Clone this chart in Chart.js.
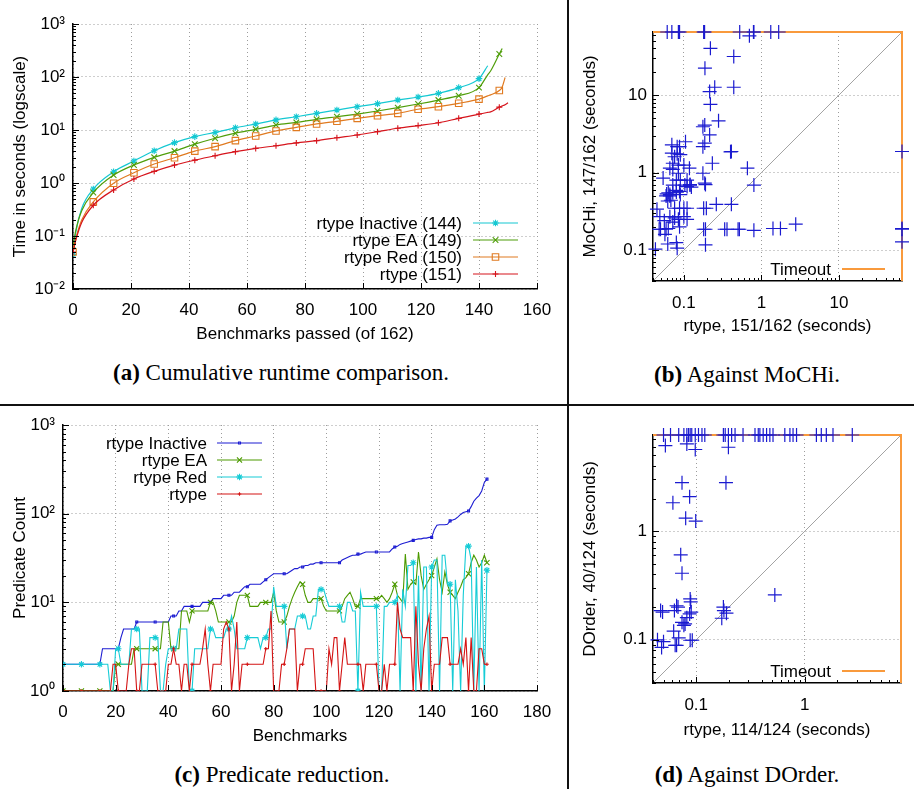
<!DOCTYPE html>
<html>
<head>
<meta charset="utf-8">
<script src="https://cdn.jsdelivr.net/npm/chart.js@4.4.1/dist/chart.umd.min.js"></script>
<style>
  body { margin: 0; background: #fff; width: 914px; height: 789px; position: relative; overflow: hidden; }
  canvas { position: absolute; }
  .cap { position: absolute; font-family: "Liberation Serif", "Times New Roman", serif; font-size: 23px;
         line-height: 26px; color: #000; white-space: nowrap; transform: translateX(-50%); }
  .rule { position: absolute; background: #111; }
</style>
</head>
<body>
<canvas id="cA" width="568" height="350" style="left:0;top:0"></canvas>
<canvas id="cB" width="344" height="345" style="left:570px;top:0"></canvas>
<canvas id="cC" width="568" height="345" style="left:0;top:405px"></canvas>
<canvas id="cD" width="344" height="345" style="left:570px;top:405px"></canvas>

<div class="rule" style="left:567px;top:0;width:1.5px;height:789px"></div>
<div class="rule" style="left:0;top:404px;width:914px;height:1.5px"></div>

<div class="cap" style="left:281px;top:360px"><b>(a)</b> Cumulative runtime comparison.</div>
<div class="cap" style="left:747px;top:362px"><b>(b)</b> Against MoCHi.</div>
<div class="cap" style="left:282px;top:762px"><b>(c)</b> Predicate reduction.</div>
<div class="cap" style="left:747px;top:762px"><b>(d)</b> Against DOrder.</div>

<script>
// ---------- (a) cumulative runtime, seconds at benchmark count ----------
const passedA  = [0, 1, 3, 7, 14, 21, 28, 35, 42, 49, 56, 63, 70, 77, 84, 91, 98, 105, 112, 119, 126, 133, 140, 143, 144, 147, 148, 149, 150];
const inactiveA = [0.045, 0.12, 0.33, 0.77, 1.63, 2.6, 4.07, 5.77, 7.5, 9.0, 11.0, 13.0, 15.5, 17.8, 20.6, 23.8, 27.5, 31.4, 36.7, 41.9, 49.1, 63, 93, 163, null, null, null, null, null];
const eaA       = [0.065, 0.13, 0.3, 0.66, 1.41, 2.19, 3.05, 4.0, 5.4, 7.0, 8.7, 10.3, 12.4, 13.9, 15.9, 17.8, 20, 22.8, 26.4, 30.9, 36.7, 44.4, 63, 110, 130, 272, 346, null, null];
const redA      = [0.05, 0.09, 0.2, 0.44, 0.99, 1.56, 2.28, 3.0, 4.0, 4.85, 6.3, 7.7, 9.6, 11.2, 13, 14.6, 16.6, 18.6, 20.6, 24.6, 27.5, 31.9, 38.3, 44, 46, 55.5, 65, 98, null];
const rtypeA    = [0.05, 0.085, 0.18, 0.38, 0.74, 1.19, 1.66, 2.18, 2.7, 3.27, 3.9, 4.5, 5.05, 5.7, 6.3, 7.15, 8.05, 9.3, 10.8, 12.1, 13.7, 16.6, 20, 21.5, 22, 27, 28.5, 30, 32.7];

// ---------- (b) rtype vs MoCHi, [rtype s, MoCHi s], 65 = timeout ----------
const TIMEOUT_B = 65;
const vsMochi = [
  [0.061, 65], [0.070, 65], [0.085, 65], [0.088, 65], [0.18, 65], [0.185, 65], [0.525, 65], [0.79, 65], [0.80, 65], [1.32, 65], [1.67, 65],
  [0.7, 58], [0.22, 40], [0.44, 31.4], [0.187, 22.2], [0.44, 12.6], [0.25, 12.6], [0.215, 11.1], [0.22, 7.6], [0.28, 4.65],
  [0.186, 4.1], [0.176, 3.9], [0.215, 3.06], [0.186, 2.4], [0.176, 2.16], [0.233, 1.32], [0.41, 1.87], [0.40, 1.85], [0.66, 1.14],
  [0.80, 0.69], [0.176, 0.98], [0.186, 0.73], [0.19, 0.70],
  [65, 1.87], [65, 0.186], [65, 0.19], [65, 0.128],
  [0.07, 2.28], [0.082, 2.16], [0.088, 2.16], [0.105, 2.5], [0.07, 1.78], [0.082, 1.75], [0.076, 1.6], [0.09, 1.7], [0.072, 1.32],
  [0.085, 1.25], [0.1, 1.25], [0.118, 1.14], [0.066, 1.14], [0.072, 1.1], [0.085, 0.98], [0.08, 0.8], [0.054, 0.85], [0.09, 0.8],
  [0.11, 0.8], [0.12, 0.69], [0.125, 0.65], [0.072, 0.69], [0.08, 0.59], [0.063, 0.55], [0.088, 0.57], [0.066, 0.5], [0.06, 0.53],
  [0.045, 0.337], [0.048, 0.186], [0.05, 0.186], [0.059, 0.186], [0.063, 0.19], [0.057, 0.16], [0.043, 0.103], [0.062, 0.12],
  [0.08, 0.125], [0.082, 0.106], [0.19, 0.117], [0.19, 0.186], [0.18, 0.186], [0.195, 0.347], [0.18, 0.347], [0.262, 0.39],
  [0.41, 0.39], [0.336, 0.186], [0.36, 0.186], [0.5, 0.186], [0.52, 0.186], [0.80, 0.18], [1.41, 0.19], [1.76, 0.19], [2.77, 0.216],
  [0.066, 0.52], [0.059, 0.5], [0.068, 0.44], [0.062, 0.43], [0.072, 0.55], [0.08, 0.56], [0.09, 0.52], [0.076, 0.347],
  [0.088, 0.347], [0.1, 0.347], [0.11, 0.347], [0.066, 0.27], [0.076, 0.26], [0.085, 0.25], [0.1, 0.27], [0.11, 0.25],
  [0.049, 0.27], [0.056, 0.24], [0.072, 0.23], [0.103, 0.69], [0.11, 0.66], [0.12, 0.7], [0.088, 0.2]
];

// ---------- (c) predicate count per benchmark (index 0..161) ----------
const inactiveC = [
  2, 2, 2, 2, 2, 2, 2, 2, 2, 2,   2, 2, 2, 2, 2, 3, 3, 3, 3, 3,
  3, 3, 4, 5, 5, 5, 5, 5, 6, 6,   6, 6, 6, 6, 6, 6, 6, 6, 6, 6,
  6, 7, 7, 7, 8, 8, 9, 9, 9, 9,   9, 9, 9, 10, 10, 10, 10, 11, 11, 11,
  11, 12, 12, 12, 12, 13, 13, 13, 14, 15,   15, 16, 16, 16, 16, 16, 17, 18, 19, 20,
  21, 21, 21, 21, 21, 21, 22, 23, 24, 24,   25, 25, 26, 26, 27, 27, 28, 28, 28, 28,
  28, 28, 28, 28, 28, 28, 30, 31, 32, 33,   34, 34, 35, 35, 36, 37, 37, 37, 37, 37,
  37, 37, 37, 37, 37, 40, 42, 43, 45, 46,   47, 48, 49, 50, 51, 52, 52, 53, 53, 54,
  54, 66, 74, 75, 75, 75, 76, 83, 85, 87,   92, 98, 103, 105, 107, 120, 138, 150, 160, 180,
  225, 245
];
const eaC = [
  1, 1, 1, 1, 1, 1, 1, 1, 1, 1,   1, 1, 1, 1, 1, 1, 1, 1, 1, 1,
  2, 2, 2, 2, 2, 2, 2, 3, 3, 3,   3, 3, 3, 3, 3, 3, 3, 3, 6, 6,
  6, 3, 3, 3, 3, 8, 8, 8, 6, 8,   8, 8, 8, 8, 8, 8, 10, 10, 8, 6,
  6, 6, 6, 6, 6, 7, 10, 12, 12, 12,   12, 9, 9, 9, 9, 10, 10, 10, 10, 10,
  13, 8, 6, 6, 6, 7, 9, 11, 13, 15,   17, 16, 12, 10, 10, 11, 11, 11, 11, 9,
  8, 8, 8, 8, 8, 8, 9, 11, 12, 13,   11, 9, 9, 11, 11, 11, 11, 11, 11, 11,
  11, 12, 11, 10, 11, 13, 16, 12, 11, 10,   35, 14, 16, 17, 16, 37, 20, 14, 16, 18,
  20, 25, 31, 18, 13, 22, 16, 13, 12, 11,   13, 15, 18, 19, 21, 28, 34, 30, 25, 28,
  34, 28
];
const redC = [
  2, 2, 2, 2, 2, 2, 2, 2, 2, 2,   2, 2, 2, 2, 2, 2, 2, 2, 1, 1,
  3, 3, 2, 2, 2, 2, 5, 5, 5, 5,   1, 1, 1, 4, 4, 4, 4, 1, 1, 2,
  3, 3, 3, 3, 5, 5, 5, 5, 1, 1,   3, 3, 3, 3, 3, 3, 5, 5, 4, 4,
  4, 4, 5, 5, 7, 5, 3, 3, 3, 3,   4, 4, 4, 4, 4, 3, 4, 4, 5, 5,
  15, 9, 9, 9, 9, 3, 5, 5, 5, 7,   7, 7, 7, 5, 5, 7, 7, 14, 14, 14,
  11, 9, 9, 9, 9, 9, 6, 6, 10, 10,   8, 8, 1, 13, 9, 9, 9, 9, 9, 9,
  1, 1, 9, 9, 10, 10, 10, 12, 1, 14,   9, 26, 26, 28, 1, 20, 1, 25, 25, 1,
  25, 30, 30, 1, 34, 34, 16, 16, 1, 18,   8, 1, 12, 43, 43, 30, 1, 25, 1, 30,
  1, 23
];
const rtypeC = [
  1, 1, 1, 1, 1, 1, 1, 1, 1, 1,   1, 1, 1, 1, 1, 1, 1, 1, 1, 2,
  2, 1, 1, 1, 1, 2, 3, 3, 1, 1,   2, 2, 2, 2, 2, 2, 1, 1, 1, 1,
  2, 2, 3, 2, 2, 1, 2, 2, 1, 2,   2, 2, 2, 3, 5, 2, 1, 2, 2, 2,
  2, 5, 6, 5, 1, 2, 6, 1, 2, 2,   2, 2, 2, 2, 2, 2, 2, 3, 3, 8,
  1, 1, 1, 2, 2, 3, 5, 5, 5, 1,   2, 2, 3, 3, 3, 3, 1, 1, 1, 1,
  1, 3, 2, 4, 4, 1, 2, 4, 2, 2,   2, 2, 2, 2, 1, 2, 2, 2, 2, 2,
  1, 1, 2, 1, 2, 2, 2, 10, 5, 4,   4, 4, 4, 1, 9, 2, 1, 3, 5, 7,
  1, 2, 2, 2, 4, 4, 4, 2, 2, 2,   2, 3, 2, 4, 1, 4, 1, 1, 3, 3,
  2, 2
];

// ---------- (d) rtype vs DOrder, [rtype s, DOrder s], 7.7 = timeout ----------
const TIMEOUT_D = 7.7;
const vsDorder = [
  [0.05, 7.7], [0.058, 7.7], [0.069, 7.7], [0.077, 7.7], [0.082, 7.7], [0.085, 7.7], [0.088, 7.7], [0.091, 7.7], [0.098, 7.7],
  [0.105, 7.7], [0.113, 7.7], [0.12, 7.7], [0.178, 7.7], [0.185, 7.7], [0.198, 7.7], [0.212, 7.7], [0.228, 7.7], [0.27, 7.7],
  [0.348, 7.7], [0.373, 7.7], [0.386, 7.7], [0.414, 7.7], [0.445, 7.7], [0.477, 7.7], [0.51, 7.7], [0.655, 7.7], [0.73, 7.7],
  [0.78, 7.7], [0.84, 7.7], [1.28, 7.7], [1.42, 7.7], [1.58, 7.7], [1.82, 7.7], [2.74, 7.7],
  [0.052, 6.15], [0.082, 6.37], [0.098, 5.66], [0.198, 5.94], [0.074, 2.8], [0.188, 2.8], [0.087, 2.08], [0.061, 1.83],
  [0.08, 1.32], [0.099, 1.24], [0.072, 0.606], [0.074, 0.41], [0.53, 0.259], [0.088, 0.238], [0.047, 0.186], [0.049, 0.18],
  [0.066, 0.206], [0.068, 0.2], [0.063, 0.186], [0.089, 0.224], [0.087, 0.173], [0.09, 0.18], [0.082, 0.16], [0.074, 0.145],
  [0.079, 0.14], [0.077, 0.136], [0.062, 0.12], [0.069, 0.104], [0.064, 0.089], [0.066, 0.089], [0.044, 0.1], [0.05, 0.096],
  [0.048, 0.085], [0.088, 0.099], [0.092, 0.099], [0.178, 0.2], [0.18, 0.186], [0.19, 0.176], [0.172, 0.158]
];

// colours
const CYAN = '#14c8d2', GREEN = '#4f9e0a', ORANGE = '#e07a20', RED = '#d6141c';
const BLUE = '#1a1ad0', TOUT = '#f99a3c', DIAG = '#a3a3a3';

Chart.defaults.font.family = '"Liberation Sans", Arial, Helvetica, sans-serif';
Chart.defaults.font.size = 17;
Chart.defaults.color = '#000';
Chart.defaults.animation = false;
Chart.defaults.events = [];
Chart.defaults.plugins.legend.display = false;
Chart.defaults.plugins.tooltip.enabled = false;

// ---------- helpers ----------
const SUP = { '-': '⁻', '0': '⁰', '1': '¹', '2': '²', '3': '³' };
function isDecade(v) { const l = Math.log10(v); return Math.abs(l - Math.round(l)) < 1e-9; }
function isWhole(v) {
  const p = Math.pow(10, Math.floor(Math.log10(v) + 1e-9));
  const s = v / p;
  return Math.abs(s - Math.round(s)) < 1e-6;
}
function powLabel(v) {
  if (!isDecade(v)) return '';
  return '10' + String(Math.round(Math.log10(v))).split('').map(c => SUP[c]).join('');
}
function plainLabel(v) { return isDecade(v) ? String(+(+v).toPrecision(1)) : ''; }

const grid = {
  drawTicks: false,
  lineWidth: 1,
  color: c => {
    if (!c.tick) return 'rgba(0,0,0,0)';
    const major = c.scale.type === 'logarithmic' ? isDecade(c.tick.value) : true;
    return major ? '#9c9c9c' : 'rgba(0,0,0,0)';
  }
};
const border = { display: true, color: '#000', width: 1.5, dash: [1, 3] };

function axis(extra) {
  return Object.assign({ grid, border }, extra);
}

// gnuplot style: tick marks pointing into the plot
const inwardTicks = {
  id: 'inwardTicks',
  afterDraw(chart, args, o) {
    if (!o || !o.major) return;
    const ctx = chart.ctx, a = chart.chartArea;
    ctx.save();
    ctx.strokeStyle = '#000';
    ctx.lineWidth = 1;
    ['x', 'y'].forEach(id => {
      const s = chart.scales[id];
      s.ticks.forEach(t => {
        let len = o.major;
        if (s.type === 'logarithmic') {
          if (isDecade(t.value)) len = o.major;
          else if (isWhole(t.value)) len = o.minor;
          else return;
        }
        const p = Math.round(s.getPixelForValue(t.value)) + 0.5;
        ctx.beginPath();
        if (id === 'x') { ctx.moveTo(p, a.bottom); ctx.lineTo(p, a.bottom - len); }
        else { ctx.moveTo(a.left, p); ctx.lineTo(a.left + len, p); }
        ctx.stroke();
      });
    });
    ctx.restore();
  }
};

// gnuplot style key: right aligned text, sample line to the right
const keyBox = {
  id: 'keyBox',
  afterDraw(chart, args, o) {
    if (!o || !o.textRight) return;
    const ctx = chart.ctx;
    let row = 0;
    chart.data.datasets.forEach(ds => {
      if (!ds.key) return;
      const y = o.top + row * o.step;
      ctx.save();
      ctx.font = '17px "Liberation Sans", Arial, sans-serif';
      ctx.fillStyle = '#000';
      ctx.textAlign = 'right';
      ctx.textBaseline = 'middle';
      ctx.fillText(ds.label, o.textRight, y + 1);
      ctx.strokeStyle = ds.borderColor;
      ctx.lineWidth = ds.borderWidth;
      ctx.beginPath();
      ctx.moveTo(o.x1, y);
      ctx.lineTo(o.x2, y);
      ctx.stroke();
      if (ds.keyStyle) {
        ctx.fillStyle = ds.keyStyle === 'rect' ? 'rgba(0,0,0,0)' : ds.borderColor;
        ctx.lineWidth = 1.1;
        Chart.helpers.drawPoint(ctx, { pointStyle: ds.keyStyle, radius: ds.keyRadius, borderWidth: 1.1, rotation: 0 }, (o.x1 + o.x2) / 2, y);
      }
      ctx.restore();
      row++;
    });
  }
};
Chart.register(inwardTicks, keyBox);

function lineSet(label, xs, ys, color, style, r, order, smooth, width) {
  return {
    label, key: true, order,
    data: xs.map((x, i) => ({ x, y: ys[i] })),
    borderColor: color,
    backgroundColor: color,
    borderWidth: width,
    pointStyle: style,
    keyStyle: style,
    keyRadius: r,
    pointRadius: c => (c.raw && c.raw.x % 7 === 0) ? r : 0,
    pointBorderColor: color,
    pointBackgroundColor: style === 'rect' ? 'rgba(0,0,0,0)' : color,
    pointBorderWidth: 1.1,
    cubicInterpolationMode: smooth ? 'monotone' : 'default',
    tension: 0
  };
}

// ---------- (a) ----------
new Chart(document.getElementById('cA'), {
  type: 'line',
  data: {
    datasets: [
      lineSet('rtype Inactive (144)', passedA, inactiveA, CYAN, 'star', 3.3, 4, true, 1.2),
      lineSet('rtype EA (149)', passedA, eaA, GREEN, 'crossRot', 4, 3, true, 1.2),
      lineSet('rtype Red (150)', passedA, redA, ORANGE, 'rect', 4.6, 2, true, 1.2),
      lineSet('rtype (151)', passedA, rtypeA, RED, 'cross', 3, 1, true, 1.2)
    ]
  },
  options: {
    responsive: false,
    layout: { padding: { top: 24, right: 31, left: 0, bottom: 0 } },
    scales: {
      x: axis({
        type: 'linear', min: 0, max: 160,
        ticks: { stepSize: 20, padding: 11, autoSkip: false, maxRotation: 0 },
        title: { display: true, text: 'Benchmarks passed (of 162)', padding: { top: 0, bottom: 5 } },
        afterFit: s => { s.height = 61; }
      }),
      y: axis({
        type: 'logarithmic', min: 0.01, max: 1000,
        ticks: { callback: v => powLabel(v), autoSkip: false, padding: 8 },
        title: { display: true, text: 'Time in seconds (logscale)', padding: { top: 10, bottom: 0 } },
        afterFit: s => { s.width = 73; }
      })
    },
    plugins: {
      inwardTicks: { major: 6, minor: 3 },
      keyBox: { textRight: 462, x1: 473, x2: 518, top: 223, step: 17 }
    }
  }
});

// ---------- scatter panels ----------
function scatterPanel(id, pairs, T, min, pad, fitH, xTitle, yTitle, keyTop, xTitlePad) {
  return new Chart(document.getElementById(id), {
    type: 'scatter',
    data: {
      datasets: [
        {
          label: 'runs', order: 1, clip: false,
          data: pairs.map(([x, y]) => ({ x, y })),
          pointStyle: 'cross', pointRadius: 7, pointBorderWidth: 1.2,
          pointBorderColor: BLUE, pointBackgroundColor: BLUE
        },
        {
          label: 'Timeout', key: true, order: 2, clip: false, showLine: true,
          data: [{ x: min, y: T }, { x: T, y: T }, { x: T, y: min }],
          borderColor: TOUT, borderWidth: 2, pointRadius: 0
        },
        {
          label: 'diag', order: 3, showLine: true,
          data: [{ x: min, y: min }, { x: T, y: T }],
          borderColor: DIAG, borderWidth: 1, pointRadius: 0
        }
      ]
    },
    options: {
      responsive: false,
      layout: { padding: pad },
      scales: {
        x: axis({
          type: 'logarithmic', min, max: T,
          ticks: { callback: v => plainLabel(v), autoSkip: false, maxRotation: 0, padding: 12 },
          title: { display: true, text: xTitle, padding: { top: 0, bottom: xTitlePad } },
          afterFit: s => { s.height = fitH; }
        }),
        y: axis({
          type: 'logarithmic', min, max: T,
          ticks: { callback: v => plainLabel(v), autoSkip: false, padding: 6 },
          title: { display: true, text: yTitle, padding: { top: 10, bottom: 0 } },
          afterFit: s => { s.width = 83; }
        })
      },
      plugins: {
        inwardTicks: { major: 6, minor: 3 },
        keyBox: { textRight: 261, x1: 272, x2: 315, top: keyTop, step: 17 }
      }
    }
  });
}

scatterPanel('cB', vsMochi, TIMEOUT_B, 0.04, { top: 32, right: 11, left: 0, bottom: 0 }, 64,
  'rtype, 151/162 (seconds)', 'MoCHi, 147/162 (seconds)', 269, 8);
scatterPanel('cD', vsDorder, TIMEOUT_D, 0.04, { top: 30, right: 13, left: 0, bottom: 0 }, 67,
  'rtype, 114/124 (seconds)', 'DOrder, 40/124 (seconds)', 266, 9);

// ---------- (c) ----------
const benchC = inactiveC.map((_, i) => i);
new Chart(document.getElementById('cC'), {
  type: 'line',
  data: {
    datasets: [
      lineSet('rtype Inactive', benchC, inactiveC, '#1c1cd2', 'rect', 1.4, 4, false, 1.1),
      lineSet('rtype EA', benchC, eaC, '#4c9a00', 'crossRot', 3.6, 3, false, 1.1),
      lineSet('rtype Red', benchC, redC, '#16ccd6', 'star', 3.2, 2, false, 1.1),
      lineSet('rtype', benchC, rtypeC, '#d41414', 'cross', 1.8, 1, false, 1.1)
    ]
  },
  options: {
    responsive: false,
    layout: { padding: { top: 20, right: 31, left: 0, bottom: 0 } },
    scales: {
      x: axis({
        type: 'linear', min: 0, max: 180,
        ticks: { stepSize: 20, padding: 11, autoSkip: false, maxRotation: 0 },
        title: { display: true, text: 'Benchmarks', padding: { top: 0, bottom: 3 } },
        afterFit: s => { s.height = 59; }
      }),
      y: axis({
        type: 'logarithmic', min: 1, max: 1000,
        ticks: { callback: v => powLabel(v), autoSkip: false, padding: 8 },
        title: { display: true, text: 'Predicate Count', padding: { top: 10, bottom: 0 } },
        afterFit: s => { s.width = 63; }
      })
    },
    plugins: {
      inwardTicks: { major: 6, minor: 3 },
      keyBox: { textRight: 207, x1: 217, x2: 262, top: 38, step: 17 }
    }
  }
});
</script>
</body>
</html>
